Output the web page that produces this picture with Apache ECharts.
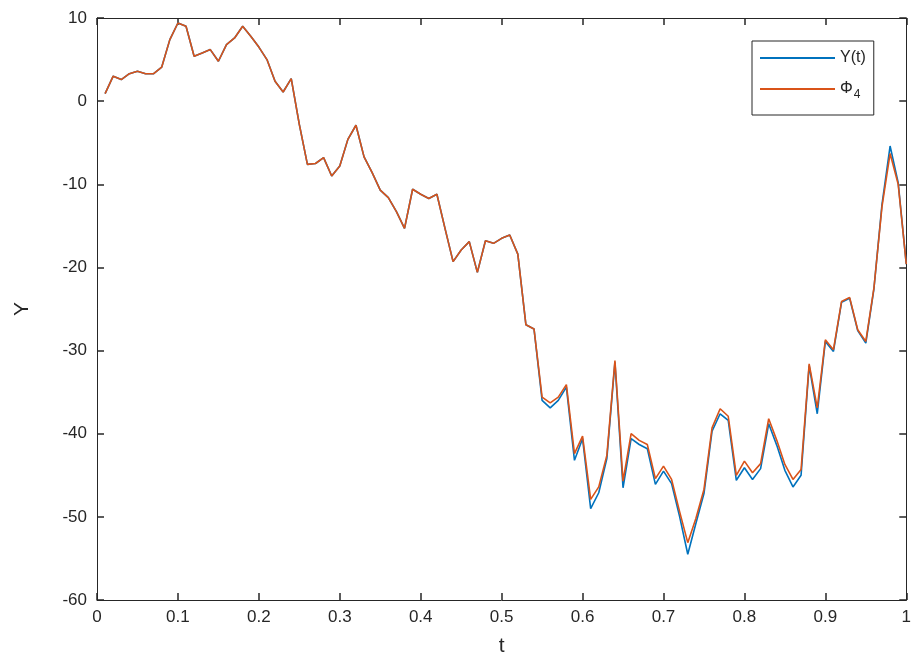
<!DOCTYPE html>
<html>
<head>
<meta charset="utf-8">
<script src="https://cdn.jsdelivr.net/npm/echarts@6/dist/echarts.min.js"></script>
<style>html,body{margin:0;padding:0;background:#fff}#c{width:914px;height:668px}</style>
</head>
<body>
<div id="c"></div>
<script>
const tValues = [0.01,0.02,0.03,0.04,0.05,0.06,0.07,0.08,0.09,0.10,
0.11,0.12,0.13,0.14,0.15,0.16,0.17,0.18,0.19,0.20,
0.21,0.22,0.23,0.24,0.25,0.26,0.27,0.28,0.29,0.30,
0.31,0.32,0.33,0.34,0.35,0.36,0.37,0.38,0.39,0.40,
0.41,0.42,0.43,0.44,0.45,0.46,0.47,0.48,0.49,0.50,
0.51,0.52,0.53,0.54,0.55,0.56,0.57,0.58,0.59,0.60,
0.61,0.62,0.63,0.64,0.65,0.66,0.67,0.68,0.69,0.70,
0.71,0.72,0.73,0.74,0.75,0.76,0.77,0.78,0.79,0.80,
0.81,0.82,0.83,0.84,0.85,0.86,0.87,0.88,0.89,0.90,
0.91,0.92,0.93,0.94,0.95,0.96,0.97,0.98,0.99,1.00];

const yValues = [0.9,3.0,2.6,3.3,3.6,3.3,3.3,4.1,7.4,9.4,
9.0,5.4,5.8,6.2,4.8,6.8,7.6,9.0,7.8,6.5,
5.0,2.4,1.1,2.7,-2.8,-7.6,-7.5,-6.8,-9.0,-7.8,
-4.6,-2.9,-6.7,-8.6,-10.7,-11.6,-13.3,-15.3,-10.6,-11.2,
-11.7,-11.2,-15.3,-19.3,-17.9,-16.9,-20.6,-16.8,-17.1,-16.5,
-16.1,-18.4,-26.9,-27.4,-36.0,-36.9,-36.0,-34.4,-43.2,-40.6,
-49.0,-47.1,-43.0,-31.4,-46.5,-40.6,-41.3,-41.8,-46.1,-44.5,
-46.0,-50.0,-54.5,-50.8,-47.2,-39.7,-37.6,-38.4,-45.6,-44.1,
-45.5,-44.2,-38.8,-41.4,-44.4,-46.4,-45.0,-31.8,-37.6,-28.9,
-30.1,-24.2,-23.7,-27.6,-29.1,-22.6,-12.4,-5.4,-9.8,-19.6];

const phiValues = [0.9,3.0,2.6,3.3,3.6,3.3,3.3,4.1,7.4,9.4,
9.0,5.4,5.8,6.2,4.8,6.8,7.6,9.0,7.8,6.5,
5.0,2.4,1.1,2.7,-2.8,-7.6,-7.5,-6.8,-9.0,-7.8,
-4.6,-2.9,-6.7,-8.6,-10.7,-11.6,-13.3,-15.3,-10.6,-11.2,
-11.7,-11.2,-15.3,-19.3,-17.9,-16.9,-20.6,-16.8,-17.1,-16.5,
-16.1,-18.4,-26.9,-27.4,-35.6,-36.3,-35.6,-34.1,-42.4,-40.3,
-47.9,-46.4,-42.6,-31.2,-45.7,-40.0,-40.8,-41.3,-45.4,-43.9,
-45.5,-49.4,-53.1,-50.2,-46.7,-39.3,-37.0,-37.9,-45.0,-43.3,
-44.7,-43.6,-38.2,-40.8,-43.7,-45.5,-44.3,-31.6,-36.9,-28.7,
-29.9,-24.1,-23.6,-27.5,-28.9,-22.5,-12.7,-6.3,-10.0,-19.6];

const seriesNames = ['Y(t)', 'Φ4'];
const xTicks = [0, 0.1, 0.2, 0.3, 0.4, 0.5, 0.6, 0.7, 0.8, 0.9, 1];
const yTicks = [-60, -50, -40, -30, -20, -10, 0, 10];

const axisColor = '#262626';
const font = 'Liberation Sans, Arial, sans-serif';

const chart = echarts.init(document.getElementById('c'), null, {renderer: 'canvas'});

function pair(xs, ys) { return xs.map((x, i) => [x, ys[i]]); }

const tickStyle = {show: true, inside: true, length: 7, lineStyle: {color: axisColor, width: 1.5}};

const xBottom = {
  type: 'value', position: 'bottom', min: xTicks[0], max: xTicks[xTicks.length - 1], interval: 0.1,
  axisLine: {show: true, onZero: false, lineStyle: {color: axisColor, width: 1}},
  axisTick: tickStyle,
  splitLine: {show: false},
  name: 't', nameLocation: 'middle', nameGap: 36,
  nameTextStyle: {fontSize: 21, color: axisColor, fontFamily: font},
  axisLabel: {show: true, fontSize: 17, color: axisColor, fontFamily: font, margin: 9,
    formatter: v => String(+v.toFixed(1))}
};
const xTop = {
  type: 'value', position: 'top', min: xTicks[0], max: xTicks[xTicks.length - 1], interval: 0.1,
  axisLine: {show: true, onZero: false, lineStyle: {color: axisColor, width: 1}},
  axisTick: tickStyle,
  splitLine: {show: false},
  axisLabel: {show: false}
};
const yLeft = {
  type: 'value', position: 'left', min: yTicks[0], max: yTicks[yTicks.length - 1], interval: 10,
  axisLine: {show: true, onZero: false, lineStyle: {color: axisColor, width: 1}},
  axisTick: tickStyle,
  splitLine: {show: false},
  name: 'Y', nameLocation: 'middle', nameGap: 64, nameRotate: 90,
  nameTextStyle: {fontSize: 21, color: axisColor, fontFamily: font},
  axisLabel: {show: true, fontSize: 17, color: axisColor, fontFamily: font, margin: 10}
};
const yRight = {
  type: 'value', position: 'right', min: yTicks[0], max: yTicks[yTicks.length - 1], interval: 10,
  axisLine: {show: true, onZero: false, lineStyle: {color: axisColor, width: 1}},
  axisTick: tickStyle,
  splitLine: {show: false},
  axisLabel: {show: false}
};

chart.setOption({
  animation: false,
  backgroundColor: '#fff',
  grid: {left: 97, right: 6, top: 18, bottom: 68},
  xAxis: [xBottom, xTop],
  yAxis: [yLeft, yRight],
  legend: {
    data: seriesNames,
    orient: 'vertical',
    left: 752, top: 41,
    padding: [9, 8, 14, 8],
    icon: 'rect',
    itemWidth: 75, itemHeight: 2, itemGap: 15,
    borderColor: axisColor, borderWidth: 1, borderRadius: 0,
    backgroundColor: '#fff',
    textStyle: {fontSize: 16, color: axisColor, fontFamily: font,
      rich: {
        a: {fontSize: 16, color: axisColor, fontFamily: font},
        s: {fontSize: 12, color: axisColor, fontFamily: font, verticalAlign: 'bottom', padding: [12, 0, 0, 1]}
      }
    },
    formatter: name => name === 'Φ4' ? '{a|Φ}{s|4}' : name
  },
  series: [
    {name: seriesNames[0], type: 'line', xAxisIndex: 0, yAxisIndex: 0,
     data: pair(tValues, yValues), symbol: 'none',
     lineStyle: {color: '#0072BD', width: 1.6}, itemStyle: {color: '#0072BD'}},
    {name: seriesNames[1], type: 'line', xAxisIndex: 1, yAxisIndex: 1,
     data: pair(tValues, phiValues), symbol: 'none',
     lineStyle: {color: '#D95319', width: 1.6}, itemStyle: {color: '#D95319'}}
  ]
});
</script>
</body>
</html>
